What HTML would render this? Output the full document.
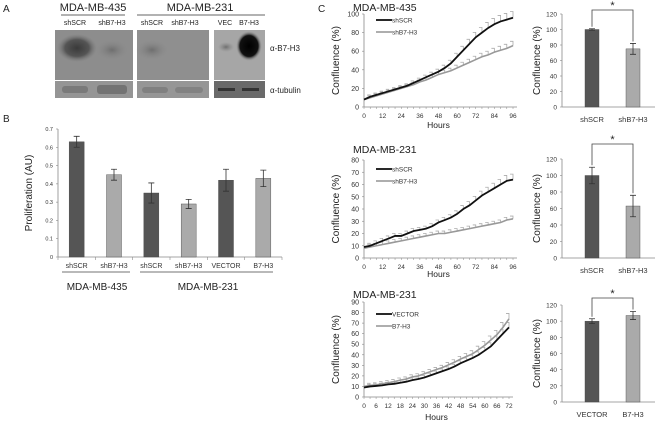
<!DOCTYPE html>
<html><head><meta charset="utf-8"><style>
body{margin:0;background:#fff;}
svg{display:block;font-family:"Liberation Sans",sans-serif;}
</style></head><body>
<svg id="fig" width="655" height="422" viewBox="0 0 655 422" xmlns="http://www.w3.org/2000/svg">
<defs>
<radialGradient id="blob1" cx="0.5" cy="0.5" r="0.5"><stop offset="0" stop-color="#3a3a3a"/><stop offset="0.6" stop-color="#555"/><stop offset="1" stop-color="#7c7c7c" stop-opacity="0"/></radialGradient>
<radialGradient id="blob2" cx="0.5" cy="0.5" r="0.5"><stop offset="0" stop-color="#6e6e6e"/><stop offset="1" stop-color="#888" stop-opacity="0"/></radialGradient>
<radialGradient id="blob3" cx="0.5" cy="0.5" r="0.5"><stop offset="0" stop-color="#000"/><stop offset="0.7" stop-color="#111"/><stop offset="1" stop-color="#999" stop-opacity="0"/></radialGradient>
</defs>
<g id="panelA" fill="#222">
<text x="3" y="12" font-size="10">A</text>
<text x="93" y="11" font-size="11" text-anchor="middle">MDA-MB-435</text>
<line x1="61" y1="15" x2="125" y2="15" stroke="#333" stroke-width="0.8"/>
<text x="200" y="11" font-size="11" text-anchor="middle">MDA-MB-231</text>
<line x1="137" y1="15" x2="265" y2="15" stroke="#333" stroke-width="0.8"/>
<g font-size="7" text-anchor="middle">
<text x="75" y="25">shSCR</text><text x="112" y="25">shB7-H3</text>
<text x="152" y="25">shSCR</text><text x="185" y="25">shB7-H3</text>
<text x="225" y="25">VEC</text><text x="249" y="25">B7-H3</text></g>
<rect x="55" y="30" width="78" height="50" fill="#8d8d8d"/>
<ellipse cx="77" cy="48" rx="20" ry="14" fill="url(#blob1)"/>
<ellipse cx="112" cy="50" rx="16" ry="10" fill="url(#blob2)"/>
<rect x="137" y="30" width="72" height="50" fill="#8f8f8f"/>
<ellipse cx="152" cy="50" rx="16" ry="10" fill="url(#blob2)"/>
<rect x="214" y="30" width="51" height="50" fill="#a6a6a6"/>
<ellipse cx="226" cy="47" rx="8" ry="5" fill="url(#blob2)"/>
<ellipse cx="249" cy="46" rx="13" ry="15" fill="url(#blob3)"/>
<rect x="55" y="81" width="78" height="17" fill="#959595"/>
<rect x="62" y="86" width="26" height="7" fill="#7a7a7a" rx="3"/><rect x="97" y="85" width="30" height="9" fill="#737373" rx="3"/>
<rect x="137" y="81" width="72" height="17" fill="#969696"/>
<rect x="142" y="87" width="26" height="6" fill="#808080" rx="3"/><rect x="175" y="87" width="28" height="6" fill="#828282" rx="3"/>
<rect x="214" y="81" width="51" height="17" fill="#6a6a6a"/>
<rect x="218" y="88" width="17" height="3" fill="#333"/><rect x="242" y="88" width="17" height="3" fill="#333"/>
<text x="270" y="51" font-size="8">α-B7-H3</text>
<text x="270" y="93" font-size="8">α-tubulin</text>
</g>
<text x="3" y="122" font-size="10" fill="#222">B</text>
<text x="318" y="12" font-size="10" fill="#222">C</text>
<g id="panelB"></g>
<g id="panelC"></g>
</svg>
<script>
// ---- Panel B data ----
const bCats = ["shSCR","shB7-H3","shSCR","shB7-H3","VECTOR","B7-H3"];
const bVals = [0.63,0.45,0.35,0.29,0.42,0.43];
const bErrs = [0.03,0.03,0.055,0.025,0.06,0.045];
const bTicks = [0,0.1,0.2,0.3,0.4,0.5,0.6,0.7];
// ---- Panel C line data ----
const hours96 = [0,4,8,12,16,20,24,28,32,36,40,44,48,52,56,60,64,68,72,76,80,84,88,92,96];
const c1a = [8,11,13,15,17,19,21,23,26,29,32,35,38,42,47,54,61,68,75,80,85,89,92,94,96];
const c1b = [8,10,12,14,16,18,20,22,24,27,29,32,35,37,39,42,45,48,51,54,56,59,61,63,66];
const c2a = [9,10,12,14,16,18,18,20,22,23,24,26,29,31,33,36,40,43,47,51,54,57,60,63,64];
const c2b = [8,9,10,11,12,13,14,15,16,17,18,19,20,20,21,22,23,24,25,26,27,28,29,31,32];
const hours72 = [0,3,6,9,12,15,18,21,24,27,30,33,36,39,42,45,48,51,54,57,60,63,66,69,72];
const c3a = [9,10,10.5,11,12,12.5,13.5,14.5,16,17,18.5,20.5,22.5,24.5,26.5,29,32,34.5,37,40,44,48,54,60,66];
const c3b = [10,11,11.5,12.5,13.5,14.5,16,17,19,20,22,24,26,28,30.5,33,36,38.5,41,45,49,54,59,66,74];
const xt96 = [0,12,24,36,48,60,72,84,96];
const xt72 = [0,6,12,18,24,30,36,42,48,54,60,66,72];
// ---- Panel C bar data ----
const cbCats1 = ["shSCR","shB7-H3"], cbVals1 = [100,75], cbErrs1 = [1,7];
const cbCats2 = ["shSCR","shB7-H3"], cbVals2 = [100,63], cbErrs2 = [10,13];
const cbCats3 = ["VECTOR","B7-H3"], cbVals3 = [100,107], cbErrs3 = [3,5];
const barTicks = [0,20,40,60,80,100,120];

const NS="http://www.w3.org/2000/svg";
function mk(parent,tag,attrs,txt){const e=document.createElementNS(NS,tag);for(const k in attrs)e.setAttribute(k,attrs[k]);if(txt!==undefined)e.textContent=txt;parent.appendChild(e);return e;}
const DARK="#555",LIGHT="#aaa",AX="#888",TX="#333";

// Panel B
(function(){
  const g=document.getElementById('panelB');
  const x0=58,x1=282,y0=257,yMax=0.7,yTop=129;
  const ys=v=>y0-(v/yMax)*(y0-yTop);
  const slot=(x1-x0)/bCats.length;
  const xs=i=>x0+slot*(i+0.5);
  mk(g,'line',{x1:x0,y1:yTop,x2:x0,y2:y0,stroke:AX,'stroke-width':0.8});
  mk(g,'line',{x1:x0,y1:y0,x2:x1,y2:y0,stroke:AX,'stroke-width':0.8});
  bTicks.forEach(t=>{
    const tk=mk(g,'text',{x:x0-5,y:ys(t)+2,'font-size':5.5,'text-anchor':'end',fill:TX},String(t));
    
    
    mk(g,'line',{x1:x0-2,y1:ys(t),x2:x0,y2:ys(t),stroke:AX,'stroke-width':0.6});
  });
  for(let i=0;i<=bCats.length;i++)mk(g,'line',{x1:x0+slot*i,y1:y0,x2:x0+slot*i,y2:y0+3,stroke:AX,'stroke-width':0.6});
  bVals.forEach((v,i)=>{
    const r=mk(g,'rect',{x:xs(i)-7.5,y:ys(v),width:15,height:y0-ys(v),fill:i%2?LIGHT:DARK,stroke:'#444','stroke-width':0.4});
    
    
    const e=bErrs[i];
    mk(g,'path',{d:`M${xs(i)} ${ys(v+e)}V${ys(v-e)}M${xs(i)-3} ${ys(v+e)}h6M${xs(i)-3} ${ys(v-e)}h6`,stroke:'#333','stroke-width':0.8,fill:'none'});
    const l=mk(g,'text',{x:xs(i),y:268,'font-size':7,'text-anchor':'middle',fill:TX},bCats[i]);
    
    
  });
  mk(g,'line',{x1:62,y1:272,x2:130,y2:272,stroke:'#444','stroke-width':0.8});
  mk(g,'line',{x1:140,y1:272,x2:273,y2:272,stroke:'#444','stroke-width':0.8});
  const g1=mk(g,'text',{x:97,y:290,'font-size':10,'text-anchor':'middle',fill:'#222'},'MDA-MB-435');
  
  
  const g2=mk(g,'text',{x:208,y:290,'font-size':10,'text-anchor':'middle',fill:'#222'},'MDA-MB-231');
  
  
  const yt=mk(g,'text',{x:0,y:0,'font-size':10,'text-anchor':'middle',fill:'#222',transform:'translate(32,193) rotate(-90)'},'Proliferation (AU)');
  
  
})();

// Panel C line charts
function lineChart(cfg){
  const g=document.getElementById('panelC');
  const {x0,x1,y0,yTop,yMax,xMax,xticks,xs_,sa,sb,la,lb,title,titleY,hoursY,yStep}=cfg;
  const X=v=>x0+(v/xMax)*(x1-x0), Y=v=>y0-(v/yMax)*(y0-yTop);
  mk(g,'line',{x1:x0,y1:yTop,x2:x0,y2:y0,stroke:AX,'stroke-width':0.8});
  mk(g,'line',{x1:x0,y1:y0,x2:x1+4,y2:y0,stroke:AX,'stroke-width':0.8});
  for(let v=0;v<=yMax;v+=yStep){
    const t=mk(g,'text',{x:x0-5,y:Y(v)+2.5,'font-size':7,'text-anchor':'end',fill:TX},String(v));
    
    
    mk(g,'line',{x1:x0-2,y1:Y(v),x2:x0,y2:Y(v),stroke:AX,'stroke-width':0.6});
  }
  xs_.forEach(h=>mk(g,'line',{x1:X(h),y1:y0,x2:X(h),y2:y0+2,stroke:AX,'stroke-width':0.5}));
  xticks.forEach(h=>{
    const t=mk(g,'text',{x:X(h),y:y0+11,'font-size':6.5,'text-anchor':'middle',fill:TX},String(h));
    
    
  });
  [sa,sb].forEach(s=>s.forEach((v,i)=>{if(i==0)return;const e=Math.max(2,v*0.07);
    mk(g,'path',{d:`M${X(xs_[i])} ${Y(v)}V${Y(v+e)}h-3`,stroke:'#aaa','stroke-width':0.8,fill:'none'});}));
  const ptsA=sa.map((v,i)=>X(xs_[i])+','+Y(v)).join(' ');
  const ptsB=sb.map((v,i)=>X(xs_[i])+','+Y(v)).join(' ');
  const pb=mk(g,'polyline',{points:ptsB,fill:'none',stroke:'#999','stroke-width':1.6});
  
  
  const pa=mk(g,'polyline',{points:ptsA,fill:'none',stroke:'#111','stroke-width':1.8});
  
  
  const ly=yTop+cfg.legY;
  mk(g,'line',{x1:x0+12,y1:ly,x2:x0+28,y2:ly,stroke:'#111','stroke-width':1.8});
  const t1=mk(g,'text',{x:x0+28,y:ly+2.5,'font-size':6.5,fill:TX},la);
  
  
  mk(g,'line',{x1:x0+12,y1:ly+12,x2:x0+28,y2:ly+12,stroke:'#999','stroke-width':1.6});
  const t2=mk(g,'text',{x:x0+28,y:ly+14.5,'font-size':6.5,fill:TX},lb);
  
  
  const tt=mk(g,'text',{x:x0-11,y:titleY,'font-size':10.5,fill:'#222'},title);
  
  
  const hx=mk(g,'text',{x:(x0+x1)/2,y:hoursY,'font-size':8.5,'text-anchor':'middle',fill:'#222'},'Hours');
  
  
  const yt=mk(g,'text',{x:0,y:0,'font-size':10,'text-anchor':'middle',fill:'#222',transform:`translate(339,${(y0+yTop)/2}) rotate(-90)`},'Confluence (%)');
  
  
}
lineChart({x0:364,x1:513,y0:107,yTop:14,yMax:100,yStep:20,xMax:96,xs_:hours96,xticks:xt96,sa:c1a,sb:c1b,la:'shSCR',lb:'shB7-H3',title:'MDA-MB-435',titleY:11,hoursY:128,legY:6});
lineChart({x0:364,x1:513,y0:258,yTop:160,yMax:80,yStep:10,xMax:96,xs_:hours96,xticks:xt96,sa:c2a,sb:c2b,la:'shSCR',lb:'shB7-H3',title:'MDA-MB-231',titleY:153,hoursY:277,legY:9});
lineChart({x0:364,x1:509,y0:397,yTop:302,yMax:90,yStep:10,xMax:72,xs_:hours72,xticks:xt72,sa:c3a,sb:c3b,la:'VECTOR',lb:'B7-H3',title:'MDA-MB-231',titleY:298,hoursY:420,legY:12});

// Panel C bar charts
function barChart(cfg){
  const g=document.getElementById('panelC');
  const {x0,x1,y0,yTop,cats,vals,errs}=cfg;
  const Y=v=>y0-(v/120)*(y0-yTop);
  const X=i=>x0+30+41*i;
  mk(g,'line',{x1:x0,y1:yTop,x2:x0,y2:y0,stroke:AX,'stroke-width':0.8});
  mk(g,'line',{x1:x0,y1:y0,x2:x1,y2:y0,stroke:AX,'stroke-width':0.8});
  barTicks.forEach(t=>{
    const tk=mk(g,'text',{x:x0-5,y:Y(t)+2.5,'font-size':6.5,'text-anchor':'end',fill:TX},String(t));
    
    
    mk(g,'line',{x1:x0-2,y1:Y(t),x2:x0,y2:Y(t),stroke:AX,'stroke-width':0.6});
  });
  vals.forEach((v,i)=>{
    const r=mk(g,'rect',{x:X(i)-7,y:Y(v),width:14,height:y0-Y(v),fill:i?LIGHT:DARK,stroke:'#444','stroke-width':0.4});
    
    
    const e=errs[i];
    mk(g,'path',{d:`M${X(i)} ${Y(v+e)}V${Y(v-e)}M${X(i)-3} ${Y(v+e)}h6M${X(i)-3} ${Y(v-e)}h6`,stroke:'#333','stroke-width':0.8,fill:'none'});
    const l=mk(g,'text',{x:X(i),y:y0+15,'font-size':7.5,'text-anchor':'middle',fill:TX},cats[i]);
    
    
  });
  const by=cfg.brY;
  mk(g,'path',{d:`M${X(0)} ${Y(vals[0]+errs[0])-2}V${by}H${X(1)}V${Y(vals[1]+errs[1])-2}`,stroke:'#444','stroke-width':0.8,fill:'none'});
  const s=mk(g,'text',{x:(X(0)+X(1))/2,y:by-1,'font-size':11,'text-anchor':'middle',fill:'#222'},'*');
  
  
  const yt=mk(g,'text',{x:0,y:0,'font-size':10,'text-anchor':'middle',fill:'#222',transform:`translate(540,${(y0+yTop)/2}) rotate(-90)`},'Confluence (%)');
  
  
}
barChart({x0:562,x1:655,y0:107,yTop:14,cats:cbCats1,vals:cbVals1,errs:cbErrs1,brY:10});
barChart({x0:562,x1:655,y0:258,yTop:159,cats:cbCats2,vals:cbVals2,errs:cbErrs2,brY:144});
barChart({x0:562,x1:655,y0:402,yTop:305,cats:cbCats3,vals:cbVals3,errs:cbErrs3,brY:298});
</script>
</body></html>
